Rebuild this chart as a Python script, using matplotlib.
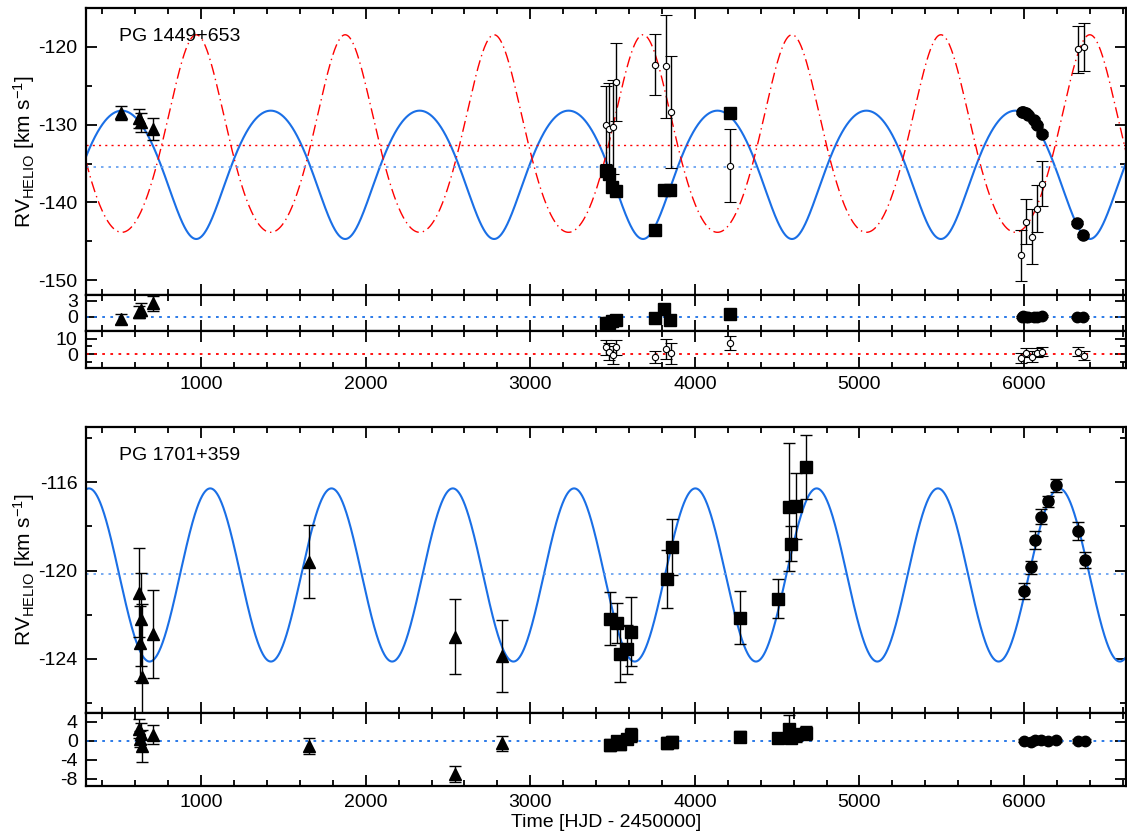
import numpy as np
import matplotlib
matplotlib.use('Agg')
from matplotlib import pyplot as plt
from matplotlib.ticker import MultipleLocator

plt.rcParams['font.family'] = ['Liberation Sans', 'DejaVu Sans']
plt.rcParams['mathtext.default'] = 'regular'
plt.rcParams['axes.unicode_minus'] = False

BLUE = '#1a6fe6'
LBLUE = '#5f9cf0'

# ---------------- PG 1449+653 ----------------
tri_t = [515, 620, 632, 705]
tri_rv = [-128.5, -129.2, -129.7, -130.6]
tri_err = [0.95, 1.2, 1.2, 1.4]
tri_res = [-0.5, 0.9, 1.3, 2.5]

sq_t = [3458, 3478, 3498, 3518, 3756, 3815, 3850, 4211]
sq_rv = [-135.9, -136.4, -138.0, -138.5, -143.5, -138.4, -138.4, -128.5]
sq_err = [0.5, 0.5, 0.5, 0.5, 0.4, 0.6, 0.6, 0.4]
sq_res = [-1.25, -1.1, -0.75, -0.6, -0.3, 1.45, -0.6, 0.5]

ci_t = [5987, 5997, 6011, 6025, 6058, 6078, 6112, 6320, 6361]
ci_rv = [-128.4, -128.4, -128.5, -128.7, -129.4, -130.1, -131.2, -142.6, -144.2]
ci_err = [0.2, 0.2, 0.2, 0.2, 0.2, 0.2, 0.2, 0.2, 0.2]
ci_res = [0.0, 0.1, 0.0, 0.0, -0.1, 0.0, 0.1, 0.0, 0.0]

# companion (open circles)
oc_t = [3462, 3478, 3502, 3518, 3756, 3825, 3852, 4211,
        5979, 6010, 6050, 6078, 6108, 6326, 6367]
oc_rv = [-130.0, -130.5, -130.3, -124.55, -122.3, -122.5, -128.4, -135.3,
         -146.8, -142.5, -144.4, -140.8, -137.6, -120.3, -120.0]
oc_err = [5.0, 5.8, 6.0, 5.0, 3.95, 6.6, 7.2, 4.7,
          3.3, 2.9, 3.5, 3.0, 2.9, 3.0, 3.1]
oc_res = [4.4, 1.6, -0.7, 4.4, -1.8, 3.3, 0.4, 7.5,
          -2.9, 0.9, -1.8, 1.0, 1.6, 1.6, -1.1]

# orbit fit
P1, T1, ecc1, w1 = 905.0, 3685.0, 0.115, np.pi
K_sd, gam_sd = 8.25, -135.5
K_ms, gam_ms = 12.7, -132.6

# ---------------- PG 1701+359 ----------------
btri_t = [625, 632, 628, 638, 705, 1656, 2545, 2831]
btri_rv = [-121.0, -122.2, -123.3, -124.8, -122.86, -119.6, -123.0, -123.87]
btri_err = [2.0, 2.1, 1.7, 3.3, 2.0, 1.66, 1.7, 1.62]
btri_res = [2.5, 1.5, 0.4, -1.1, 1.2, -1.1, -6.95, -0.57]

bsq_t = [3482, 3526, 3547, 3589, 3613, 3829, 3859, 4276, 4508, 4573, 4587, 4617, 4674]
bsq_rv = [-122.18, -122.37, -123.77, -123.57, -122.77, -120.38, -118.93, -122.14,
          -121.28, -117.14, -118.79, -117.09, -115.31]
bsq_err = [1.2, 0.9, 1.27, 1.1, 1.55, 1.33, 1.27, 1.2, 0.88, 2.9, 0.8, 1.5, 1.45]
bsq_res = [-0.9, 0.0, -0.7, 0.36, 1.2, -0.5, -0.2, 0.85, 0.5, 2.5, 0.5, 1.2, 1.6]

bci_t = [6001, 6044, 6070, 6102, 6148, 6193, 6326, 6371]
bci_rv = [-120.93, -119.85, -118.63, -117.56, -116.87, -116.14, -118.22, -119.53]
bci_err = [0.36, 0.3, 0.4, 0.35, 0.25, 0.3, 0.4, 0.35]
bci_res = [0.0, -0.2, 0.1, 0.2, 0.0, 0.1, -0.1, 0.0]

P2, Tpk2, K2, gam2 = 737.0, 1055.0, 3.92, -120.2

XMIN, XMAX = 300, 6620


def kepler_rv(t, P, T0, e, w, K, g):
    M = 2 * np.pi * (t - T0) / P
    E = M.copy()
    for _ in range(40):
        E = E - (E - e * np.sin(E) - M) / (1 - e * np.cos(E))
    nu = 2 * np.arctan2(np.sqrt(1 + e) * np.sin(E / 2), np.sqrt(1 - e) * np.cos(E / 2))
    return g + K * (np.cos(nu + w) + e * np.cos(w))


def style(ax, ymaj, ymin=None):
    ax.set_xlim(XMIN, XMAX)
    ax.xaxis.set_major_locator(MultipleLocator(1000))
    ax.xaxis.set_minor_locator(MultipleLocator(200))
    ax.yaxis.set_major_locator(MultipleLocator(ymaj))
    if ymin:
        ax.yaxis.set_minor_locator(MultipleLocator(ymin))
    ax.tick_params(which='both', direction='in', top=True, right=True,
                   width=1.3, labelsize=14, pad=6)
    ax.tick_params(which='major', length=8)
    ax.tick_params(which='minor', length=4)
    for s in ax.spines.values():
        s.set_linewidth(1.6)


def pts(ax, t, y, err, fmt, ms, open_=False):
    kw = dict(fmt=fmt, color='k', ms=ms, capsize=4, elinewidth=1, capthick=1,
              zorder=5)
    if open_:
        kw.update(mfc='white', mec='k', mew=0.8)
    ax.errorbar(t, y, yerr=err, **kw)


fig = plt.figure(figsize=(11.27, 8.34), dpi=100)
L, W = 86 / 1127, 1040 / 1127


def rect(top_px, bot_px):
    return [L, 1 - bot_px / 834, W, (bot_px - top_px) / 834]


tt = np.linspace(XMIN, XMAX, 3000)
ylab = r'RV$_{HELIO}$ [km s$^{-1}$]'

# ---- top group ----
ax1 = fig.add_axes(rect(8, 295))
ax1.plot(tt, kepler_rv(tt, P1, T1, ecc1, w1, K_sd, gam_sd), color=BLUE, lw=1.5)
ax1.plot(tt, kepler_rv(tt, P1, T1, ecc1, w1 + np.pi, K_ms, gam_ms), color='red',
         lw=1, ls=(0, (8, 3, 1, 3)))
ax1.axhline(gam_sd, color=LBLUE, lw=1.2, ls=(0, (1.5, 3)))
ax1.axhline(gam_ms, color='red', lw=1, ls=(0, (1.5, 3)))
pts(ax1, tri_t, tri_rv, tri_err, '^', 9)
pts(ax1, sq_t, sq_rv, sq_err, 's', 9)
pts(ax1, ci_t, ci_rv, ci_err, 'o', 8)
pts(ax1, oc_t, oc_rv, oc_err, 'o', 4.5, open_=True)
ax1.set_ylim(-151.9, -115)
style(ax1, 10, 5)
ax1.set_xticklabels([])
ax1.set_ylabel(ylab, fontsize=15)
ax1.yaxis.set_label_coords(-0.047, 0.5)
ax1.text(0.032, 0.9, 'PG 1449+653', transform=ax1.transAxes, fontsize=14,
         va='center')

ax2 = fig.add_axes(rect(295, 331))
ax2.axhline(0, color=BLUE, lw=1.3, ls=(0, (1.5, 3)))
pts(ax2, tri_t, tri_res, tri_err, '^', 8)
pts(ax2, sq_t, sq_res, sq_err, 's', 8)
pts(ax2, ci_t, ci_res, ci_err, 'o', 7.5)
ax2.set_ylim(-2.7, 4.1)
style(ax2, 3)
ax2.set_xticklabels([])

ax3 = fig.add_axes(rect(331, 368))
ax3.axhline(0, color='red', lw=1.3, ls=(0, (1.5, 3)))
pts(ax3, oc_t, oc_res, oc_err, 'o', 4.5, open_=True)
ax3.set_ylim(-9.3, 15.3)
style(ax3, 10, 5)

# ---- bottom group ----
ax4 = fig.add_axes(rect(427, 713))
ax4.plot(tt, gam2 + K2 * np.cos(2 * np.pi * (tt - Tpk2) / P2), color=BLUE, lw=1.5)
ax4.axhline(-120.15, color=LBLUE, lw=1.2, ls=(0, (1.5, 3)))
pts(ax4, btri_t, btri_rv, btri_err, '^', 9)
pts(ax4, bsq_t, bsq_rv, bsq_err, 's', 9)
pts(ax4, bci_t, bci_rv, bci_err, 'o', 8)
ax4.set_ylim(-126.45, -113.5)
style(ax4, 4, 2)
ax4.set_xticklabels([])
ax4.set_ylabel(ylab, fontsize=15)
ax4.yaxis.set_label_coords(-0.047, 0.5)
ax4.text(0.032, 0.9, 'PG 1701+359', transform=ax4.transAxes, fontsize=14,
         va='center')

ax5 = fig.add_axes(rect(713, 786))
ax5.axhline(0, color=BLUE, lw=1.3, ls=(0, (1.5, 3)))
pts(ax5, btri_t, btri_res, btri_err, '^', 8)
pts(ax5, bsq_t, bsq_res, bsq_err, 's', 8)
pts(ax5, bci_t, bci_res, bci_err, 'o', 7.5)
ax5.set_ylim(-9.5, 5.8)
style(ax5, 4)
ax5.set_xlabel('Time [HJD - 2450000]', fontsize=14, labelpad=2)

fig.savefig('out.png', dpi=100)
